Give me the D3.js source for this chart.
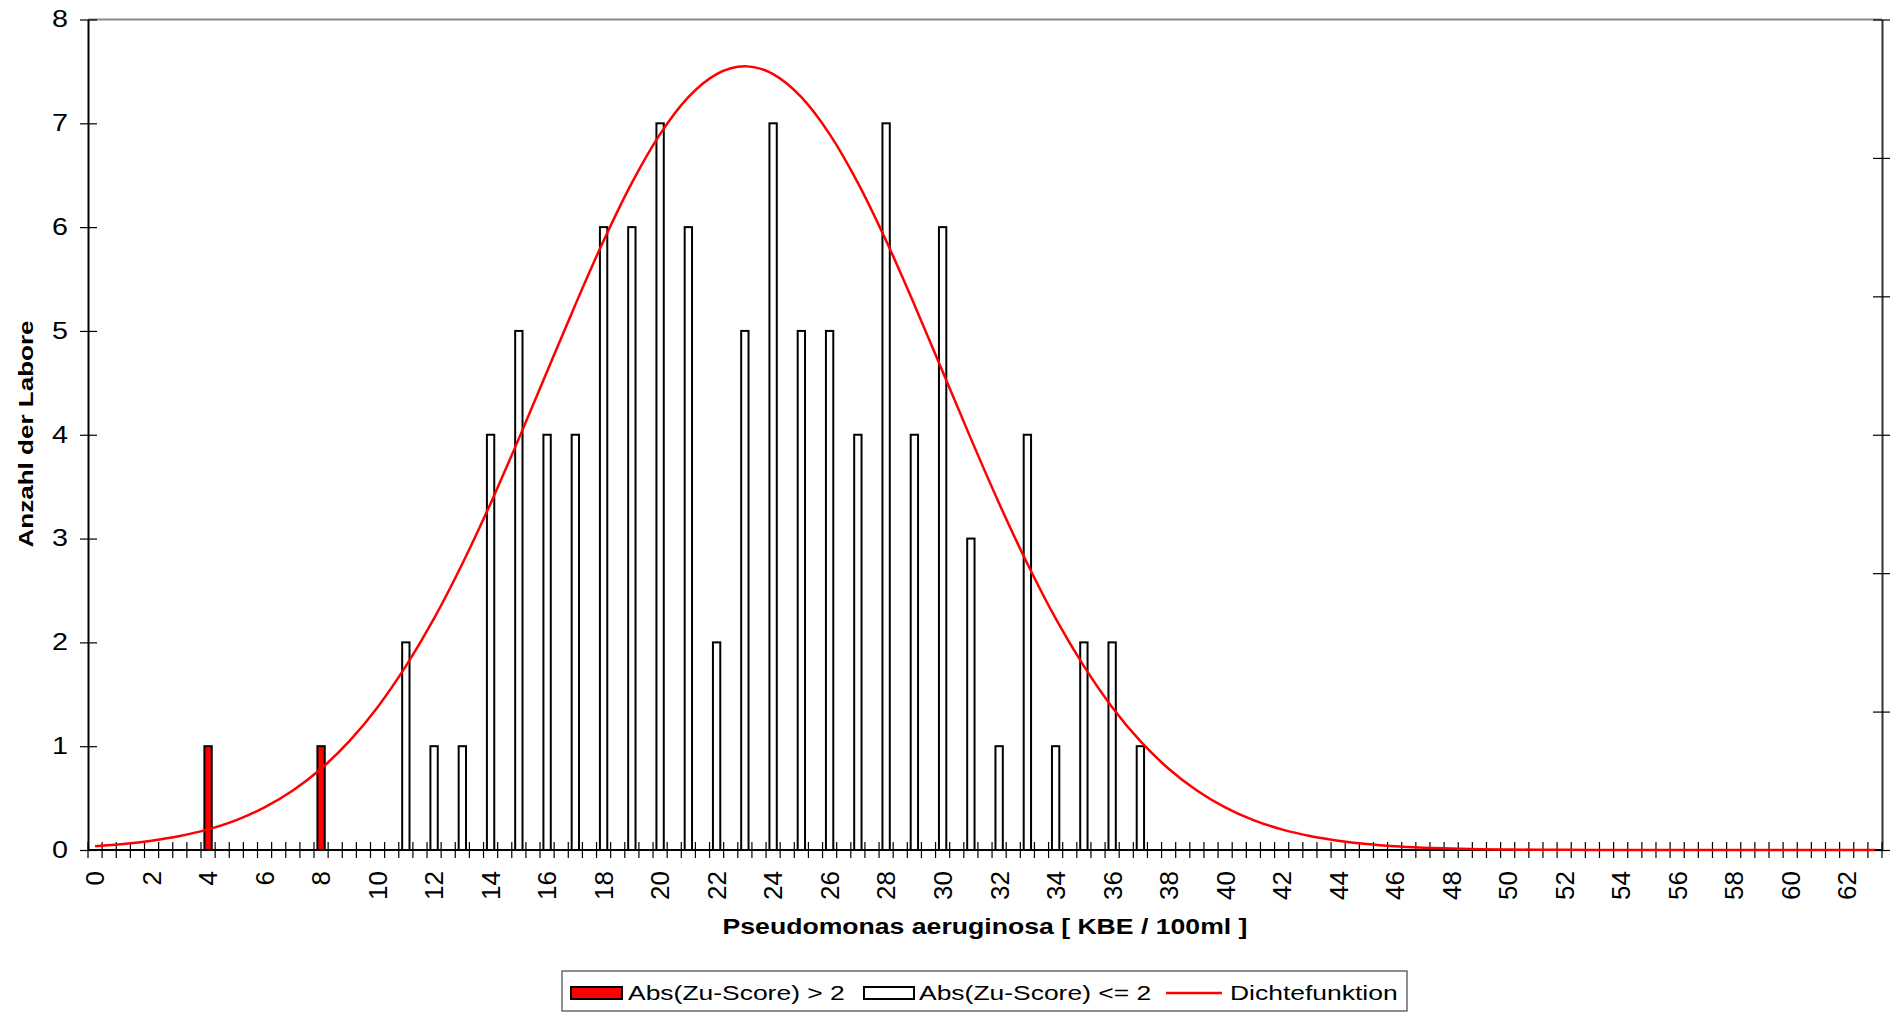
<!DOCTYPE html>
<html>
<head>
<meta charset="utf-8">
<script src="https://cdnjs.cloudflare.com/ajax/libs/d3/7.8.5/d3.min.js"></script>
<style>
body { margin: 0; background: white; }
svg { display: block; font-family: "Liberation Sans", Arial, sans-serif; }
</style>
</head>
<body>
<svg width="1894" height="1013"></svg>
<script>
// x categories: KBE / 100ml in half steps
var categories = d3.range(0, 63.5, 0.5);
var tick_labels = [0,2,4,6,8,10,12,14,16,18,20,22,24,26,28,30,32,34,36,38,40,42,44,46,48,50,52,54,56,58,60,62];
var y_ticks = [0,1,2,3,4,5,6,7,8];
var y2_ticks = [0,0.01,0.02,0.03,0.04,0.05,0.06];

// Abs(Zu-Score) > 2
var red_x = [4, 8];
var red_n = [1, 1];

// Abs(Zu-Score) <= 2
var white_x = [11,12,13,14,15,16,17,18,19,20,21,22,23,24,25,26,27,28,29,30,31,32,33,34,35,36,37];
var white_n = [2,1,1,4,5,4,4,6,6,7,6,2,5,7,5,5,4,7,4,6,3,1,4,1,2,2,1];

// Dichtefunktion (secondary axis)
var dichte_x = [0,1,2,3,4,5,6,7,8,9,10,11,12,13,14,15,16,17,18,19,20,21,22,23,24,25,26,27,28,29,30,31,
  32,33,34,35,36,37,38,39,40,41,42,43,44,45,46,47,48,49,50,51,52,53,54,55,56,57,58,59,60,61,62,63];
var dichte_y = [0.00027,0.00043,0.00067,0.00101,0.00149,0.00216,0.00308,0.00430,0.00587,0.00786,
  0.01032,0.01328,0.01673,0.02068,0.02504,0.02972,0.03457,0.03940,0.04402,0.04820,0.05172,0.05439,
  0.05606,0.05663,0.05606,0.05439,0.05172,0.04820,0.04402,0.03940,0.03457,0.02972,0.02504,0.02068,
  0.01673,0.01328,0.01032,0.00786,0.00587,0.00430,0.00308,0.00216,0.00149,0.00101,0.00067,0.00043,
  0.00027,0.00017,0.00010,0.00006,0.00004,0.00002,0.00001,0,0,0,0,0,0,0,0,0,0,0];

var svg = d3.select("svg");
// plot area (note: "top" is reserved on window, so prefixed names)
var p_left = 88, p_right = 1882, p_top = 19.5, p_bottom = 850;

var x = d3.scaleBand().domain(categories).range([p_left, p_right]).paddingInner(0).paddingOuter(0);
var y = d3.scaleLinear().domain([0, 8]).range([p_bottom, p_top]);
var y2 = d3.scaleLinear().domain([0, 0.06]).range([p_bottom, p_top]);
var barW = x.bandwidth() * 0.52;

// top border of plot area
svg.append("line")
  .attr("x1", p_left).attr("x2", p_right).attr("y1", p_top).attr("y2", p_top)
  .attr("stroke", "#8a8a8a").attr("stroke-width", 2);

// bars
function drawBars(xs, ns, fill) {
  svg.append("g").selectAll("rect")
    .data(xs)
    .enter().append("rect")
    .attr("x", function(d) { return x(d) + (x.bandwidth() - barW) / 2; })
    .attr("y", function(d, i) { return y(ns[i]); })
    .attr("width", barW)
    .attr("height", function(d, i) { return y(0) - y(ns[i]); })
    .attr("fill", fill)
    .attr("stroke", "#000")
    .attr("stroke-width", 2);
}
drawBars(white_x, white_n, "#fff");
drawBars(red_x, red_n, "#ff0000");

// left axis
var gy = svg.append("g")
  .attr("transform", "translate(" + p_left + ",0)")
  .call(d3.axisLeft(y).tickValues(y_ticks).tickSize(8).tickPadding(0).tickSizeOuter(0));
gy.select(".domain").attr("stroke", "#000").attr("stroke-width", 2);
gy.selectAll(".tick line").attr("x1", 9).attr("stroke", "#000").attr("stroke-width", 1.2);
gy.selectAll(".tick text")
  .attr("x", -16)
  .attr("transform", "scale(1.25,1)")
  .attr("font-size", 23)
  .attr("font-family", "Liberation Sans, Arial, sans-serif")
  .attr("fill", "#000");

// right axis, no labels
var gy2 = svg.append("g")
  .attr("transform", "translate(" + p_right + ",0)")
  .call(d3.axisRight(y2).tickValues(y2_ticks).tickSize(8).tickFormat("").tickSizeOuter(0));
gy2.select(".domain").attr("stroke", "#333").attr("stroke-width", 2);
gy2.selectAll(".tick line").attr("x1", -9).attr("stroke", "#000").attr("stroke-width", 1.2);

// x axis line and tick marks between categories
svg.append("line")
  .attr("x1", p_left).attr("x2", p_right).attr("y1", p_bottom).attr("y2", p_bottom)
  .attr("stroke", "#000").attr("stroke-width", 2);
svg.append("g").selectAll("line")
  .data(d3.range(categories.length + 1))
  .enter().append("line")
  .attr("x1", function(d) { return p_left + d * x.step(); })
  .attr("x2", function(d) { return p_left + d * x.step(); })
  .attr("y1", p_bottom - 8).attr("y2", p_bottom + 8)
  .attr("stroke", "#000").attr("stroke-width", 1.2);

// x tick labels, rotated
svg.append("g").selectAll("text")
  .data(tick_labels)
  .enter().append("text")
  .attr("transform", function(d) {
    return "translate(" + (x(d) + x.bandwidth() / 2) + ",871) rotate(-90)";
  })
  .attr("text-anchor", "end")
  .attr("dy", "0.36em")
  .attr("font-size", 26)
  .text(function(d) { return d; });

// density curve
var line = d3.line()
  .x(function(d) { return x(d) + x.bandwidth() / 2; })
  .y(function(d, i) { return y2(dichte_y[i]); })
  .curve(d3.curveMonotoneX);
svg.append("path")
  .datum(dichte_x)
  .attr("d", line)
  .attr("fill", "none")
  .attr("stroke", "#ff0000")
  .attr("stroke-width", 2.5);

// axis titles
svg.append("text")
  .attr("transform", "translate(985,934) scale(1.21,1)")
  .attr("text-anchor", "middle")
  .attr("font-size", 22)
  .attr("font-weight", "bold")
  .text("Pseudomonas aeruginosa [ KBE / 100ml ]");

svg.append("text")
  .attr("transform", "translate(33,434) rotate(-90) scale(1.24,1)")
  .attr("text-anchor", "middle")
  .attr("font-size", 21)
  .attr("font-weight", "bold")
  .text("Anzahl der Labore");

// legend
var lg = svg.append("g");
lg.append("rect")
  .attr("x", 562).attr("y", 971).attr("width", 845).attr("height", 40)
  .attr("fill", "#fff").attr("stroke", "#444").attr("stroke-width", 1.2);

lg.append("rect")
  .attr("x", 571).attr("y", 987).attr("width", 51).attr("height", 12)
  .attr("fill", "#ff0000").attr("stroke", "#000").attr("stroke-width", 2);
lg.append("text")
  .attr("transform", "translate(628,1000) scale(1.26,1)")
  .attr("font-size", 21)
  .text("Abs(Zu-Score) > 2");

lg.append("rect")
  .attr("x", 864).attr("y", 987).attr("width", 50).attr("height", 12)
  .attr("fill", "#fff").attr("stroke", "#000").attr("stroke-width", 2);
lg.append("text")
  .attr("transform", "translate(919,1000) scale(1.26,1)")
  .attr("font-size", 21)
  .text("Abs(Zu-Score) <= 2");

lg.append("line")
  .attr("x1", 1166).attr("x2", 1222).attr("y1", 993).attr("y2", 993)
  .attr("stroke", "#ff0000").attr("stroke-width", 2.5);
lg.append("text")
  .attr("transform", "translate(1230,1000) scale(1.26,1)")
  .attr("font-size", 21)
  .text("Dichtefunktion");
</script>
</body>
</html>
